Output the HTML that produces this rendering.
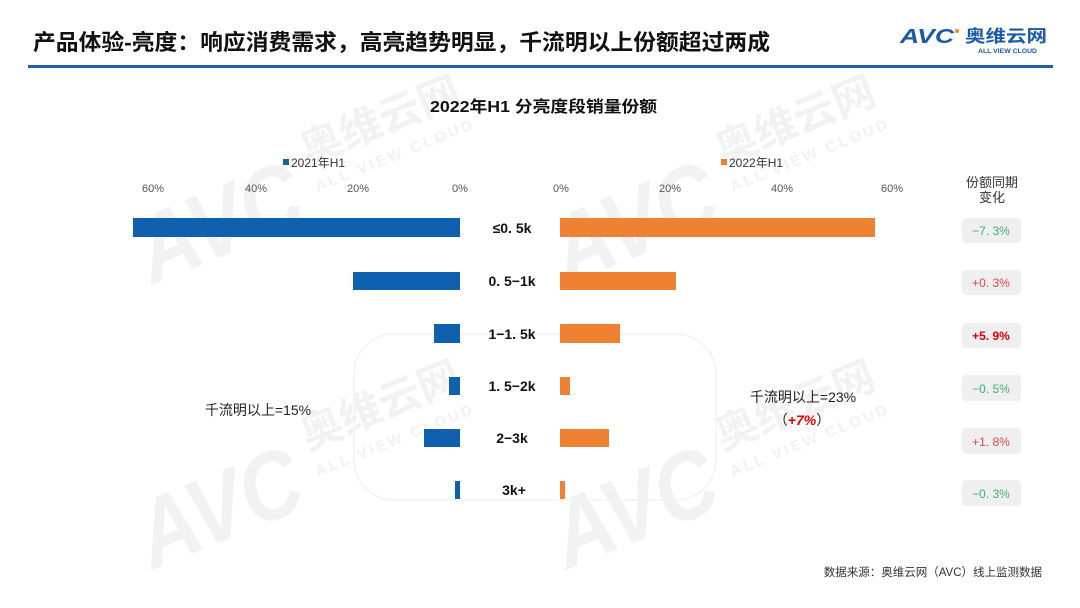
<!DOCTYPE html>
<html><head><meta charset="utf-8"><style>
html,body{margin:0;padding:0;background:#fff;}
svg{display:block;}
text{font-family:"Liberation Sans","Noto Sans CJK SC",sans-serif;}
</style></head><body>
<svg width="1080" height="608" viewBox="0 0 1080 608" xmlns="http://www.w3.org/2000/svg">
<rect width="1080" height="608" fill="#fff"/>
<!-- watermarks -->
<g fill="#f2f2f2" font-weight="bold">
  <g id="wm">
    <text x="220" y="255" font-size="96" font-style="italic" text-anchor="middle" transform="rotate(-22 220 225)" textLength="170" lengthAdjust="spacingAndGlyphs">AVC</text>
    <text x="380" y="135" font-size="42" text-anchor="middle" transform="rotate(-22 380 120)">奥维云网</text>
    <text x="395" y="160" font-size="15" text-anchor="middle" letter-spacing="3" transform="rotate(-22 395 155)">ALL VIEW CLOUD</text>
  </g>
  <use href="#wm" x="415" y="0"/>
  <use href="#wm" x="0" y="285"/>
  <use href="#wm" x="415" y="285"/>
</g>
<rect x="354" y="334" width="362" height="166" rx="40" fill="none" stroke="#f3f3f3" stroke-width="1.5"/>

<!-- header -->
<text x="33" y="50" font-size="22" font-weight="bold" fill="#111" textLength="737" lengthAdjust="spacingAndGlyphs">产品体验-亮度：响应消费需求，高亮趋势明显，千流明以上份额超过两成</text>
<rect x="28" y="65" width="1025" height="3" fill="#1f5fa8"/>
<text x="900" y="43" font-size="20" font-weight="bold" font-style="italic" fill="#1b5aa6" textLength="54" lengthAdjust="spacingAndGlyphs">AVC</text>
<circle cx="957" cy="31" r="2" fill="#ef8a2c"/>
<text x="965" y="42" font-size="17" font-weight="bold" fill="#1b5aa6" textLength="82" lengthAdjust="spacingAndGlyphs">奥维云网</text>
<text x="978" y="53" font-size="6" font-weight="bold" fill="#1b5aa6" textLength="59" lengthAdjust="spacingAndGlyphs">ALL VIEW CLOUD</text>

<!-- chart title -->
<text x="430" y="112" font-size="16" font-weight="bold" fill="#111" textLength="227" lengthAdjust="spacingAndGlyphs">2022年H1  分亮度段销量份额</text>

<!-- legends -->
<rect x="283" y="159" width="6" height="6" fill="#1060b0"/>
<text x="291" y="167" font-size="12" fill="#333">2021年H1</text>
<rect x="721" y="159" width="6" height="6" fill="#ee8232"/>
<text x="729" y="167" font-size="12" fill="#333">2022年H1</text>

<!-- ticks -->
<g font-size="11" fill="#555" text-anchor="middle">
  <text x="153" y="192">60%</text>
  <text x="256" y="192">40%</text>
  <text x="358" y="192">20%</text>
  <text x="460" y="192">0%</text>
  <text x="561" y="192">0%</text>
  <text x="670" y="192">20%</text>
  <text x="782" y="192">40%</text>
  <text x="892" y="192">60%</text>
</g>
<text x="992" y="187" font-size="13" fill="#333" text-anchor="middle">份额同期</text>
<text x="992" y="202" font-size="13" fill="#333" text-anchor="middle">变化</text>

<!-- bars -->
<g fill="#1060b0">
  <rect x="133" y="218" width="327" height="19"/>
  <rect x="353" y="272" width="107" height="18"/>
  <rect x="434" y="324" width="26" height="19"/>
  <rect x="449" y="377" width="11" height="18"/>
  <rect x="424" y="429" width="36" height="18"/>
  <rect x="455" y="481" width="5" height="18"/>
</g>
<g fill="#ee8232">
  <rect x="560" y="218" width="315" height="19"/>
  <rect x="560" y="272" width="116" height="18"/>
  <rect x="560" y="324" width="60" height="19"/>
  <rect x="560" y="377" width="10" height="18"/>
  <rect x="560" y="429" width="49" height="18"/>
  <rect x="560" y="481" width="5" height="18"/>
</g>

<!-- categories -->
<g font-size="14" font-weight="bold" fill="#111" text-anchor="middle">
  <text x="512" y="233">≤0. 5k</text>
  <text x="512" y="286">0. 5−1k</text>
  <text x="512" y="339">1−1. 5k</text>
  <text x="512" y="391">1. 5−2k</text>
  <text x="512" y="443">2−3k</text>
  <text x="514" y="495">3k+</text>
</g>

<!-- change boxes -->
<g fill="#efefef">
  <rect x="962" y="218" width="59" height="25" rx="4"/>
  <rect x="962" y="270" width="59" height="25" rx="4"/>
  <rect x="962" y="323" width="59" height="25" rx="4"/>
  <rect x="962" y="375" width="59" height="26" rx="4"/>
  <rect x="962" y="428" width="59" height="26" rx="4"/>
  <rect x="962" y="480" width="59" height="26" rx="4"/>
</g>
<g font-size="12" text-anchor="middle">
  <text x="991" y="235" fill="#3fae72">−7. 3%</text>
  <text x="991" y="287" fill="#e0474c">+0. 3%</text>
  <text x="991" y="340" fill="#e00000" font-weight="bold">+5. 9%</text>
  <text x="991" y="393" fill="#3fae72">−0. 5%</text>
  <text x="991" y="446" fill="#e0474c">+1. 8%</text>
  <text x="991" y="498" fill="#3fae72">−0. 3%</text>
</g>

<!-- annotations -->
<text x="258" y="415" font-size="14" fill="#222" text-anchor="middle">千流明以上=15%</text>
<text x="803" y="402" font-size="14" fill="#222" text-anchor="middle">千流明以上=23%</text>
<text x="802" y="425" font-size="14" fill="#222" text-anchor="middle">（<tspan fill="#e00000" font-weight="bold" font-style="italic">+7%</tspan>）</text>

<!-- footer -->
<text x="1042" y="576" font-size="11.5" fill="#333" text-anchor="end">数据来源：奥维云网（AVC）线上监测数据</text>
</svg>
</body></html>
